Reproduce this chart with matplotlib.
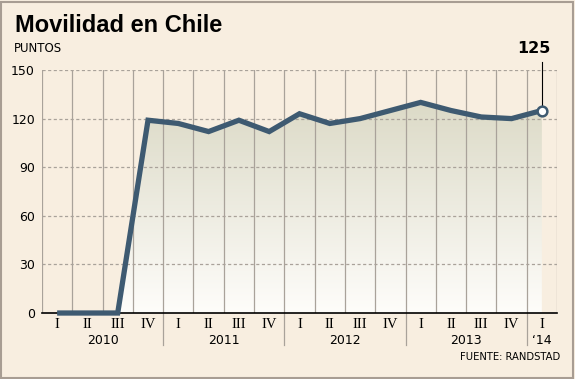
import matplotlib
matplotlib.use('Agg')
import matplotlib.pyplot as plt
import numpy as np
from matplotlib.patches import Polygon, Rectangle
from matplotlib.colors import LinearSegmentedColormap

# data
quarters = ['I', 'II', 'III', 'IV'] * 4 + ['I']
years = ['2010', '2011', '2012', '2013', '\u201814']
values = [0, 0, 0, 119, 117, 112, 119, 112, 123, 117, 120, 125, 130, 125, 121, 120, 125]
yticks = [0, 30, 60, 90, 120, 150]

bg = '#f8eee0'
line_col = '#3e5a71'
grid_col = '#a9a29a'

fig = plt.figure(figsize=(5.75, 3.79), dpi=100, facecolor=bg)
ax = fig.add_axes([0.073, 0.1741, 0.8957, 0.6412])
ax.set_facecolor(bg)

x = np.arange(len(values))
ax.set_xlim(-0.5, len(values) - 0.5)
ax.set_ylim(0, 150)

# gradient fill under line
verts = [(x[0], 0)] + list(zip(x, values)) + [(x[-1], 0)]
poly = Polygon(verts, closed=True, facecolor='none', edgecolor='none')
ax.add_patch(poly)
cmap = LinearSegmentedColormap.from_list('g', ['#fefdfa', '#dcdac7'])
grad = np.linspace(0, 1, 256).reshape(-1, 1)
im = ax.imshow(grad, cmap=cmap, origin='lower', aspect='auto',
               extent=(-0.5, len(values) - 0.5, 0, max(values)), zorder=1)
im.set_clip_path(poly)

# grid
for yv in yticks[1:]:
    ax.axhline(yv, color=grid_col, lw=0.9, ls=(0, (2.5, 2)), zorder=2)
for xv in np.arange(-0.5, len(values), 1):
    ax.axvline(xv, color=grid_col, lw=0.9, zorder=2)
ax.axhline(0, color='black', lw=1.2, zorder=3, clip_on=False)

# year separators below the axis
xt = ax.get_xaxis_transform()
for xv in [3.5, 7.5, 11.5, 15.5]:
    ax.plot([xv, xv], [0, -0.132], transform=xt, color=grid_col, lw=0.9, clip_on=False)

# line
ax.plot(x, values, color=line_col, lw=3.8, solid_capstyle='butt', solid_joinstyle='miter',
        zorder=5, clip_on=False)
ax.plot(x[-1], values[-1], 'o', ms=7, mfc='white', mec=line_col, mew=1.8, zorder=6, clip_on=False)

# annotation
ax.plot([x[-1], x[-1]], [values[-1], 155], color='black', lw=0.8, zorder=4, clip_on=False)
ax.text(x[-1] + 0.3, 163, '125', fontsize=11.5, fontweight='bold', ha='right', va='center',
        family='DejaVu Sans')

for s in ax.spines.values():
    s.set_visible(False)
ax.set_xticks([])
ax.set_yticks(yticks)
ax.tick_params(axis='y', length=0, pad=5, labelsize=9)

# quarter and year labels
for i, q in enumerate(quarters):
    ax.text(i, -0.048, q, transform=xt, ha='center', va='center', fontsize=10.5,
            family='Liberation Serif')
year_pos = [1.5, 5.5, 9.5, 13.5, 16]
for xp, yl in zip(year_pos, years):
    ax.text(xp, -0.113, yl, transform=xt, ha='center', va='center', fontsize=9)

fig.text(15 / 575, 1 - 25 / 379, 'Movilidad en Chile', fontsize=17, fontweight='bold',
         family='Liberation Sans', va='center', ha='left')
fig.text(14 / 575, 1 - 49 / 379, 'PUNTOS', fontsize=8.5, va='center', ha='left')
fig.text(560 / 575, 1 - 357 / 379, 'FUENTE: RANDSTAD', fontsize=7.2, va='center', ha='right')

fig.patches.append(Rectangle((0.002, 0.003), 0.995, 0.993, transform=fig.transFigure,
                             fill=False, edgecolor='#a89d93', lw=1.5))

fig.savefig('out.png', dpi=100, facecolor=bg)
